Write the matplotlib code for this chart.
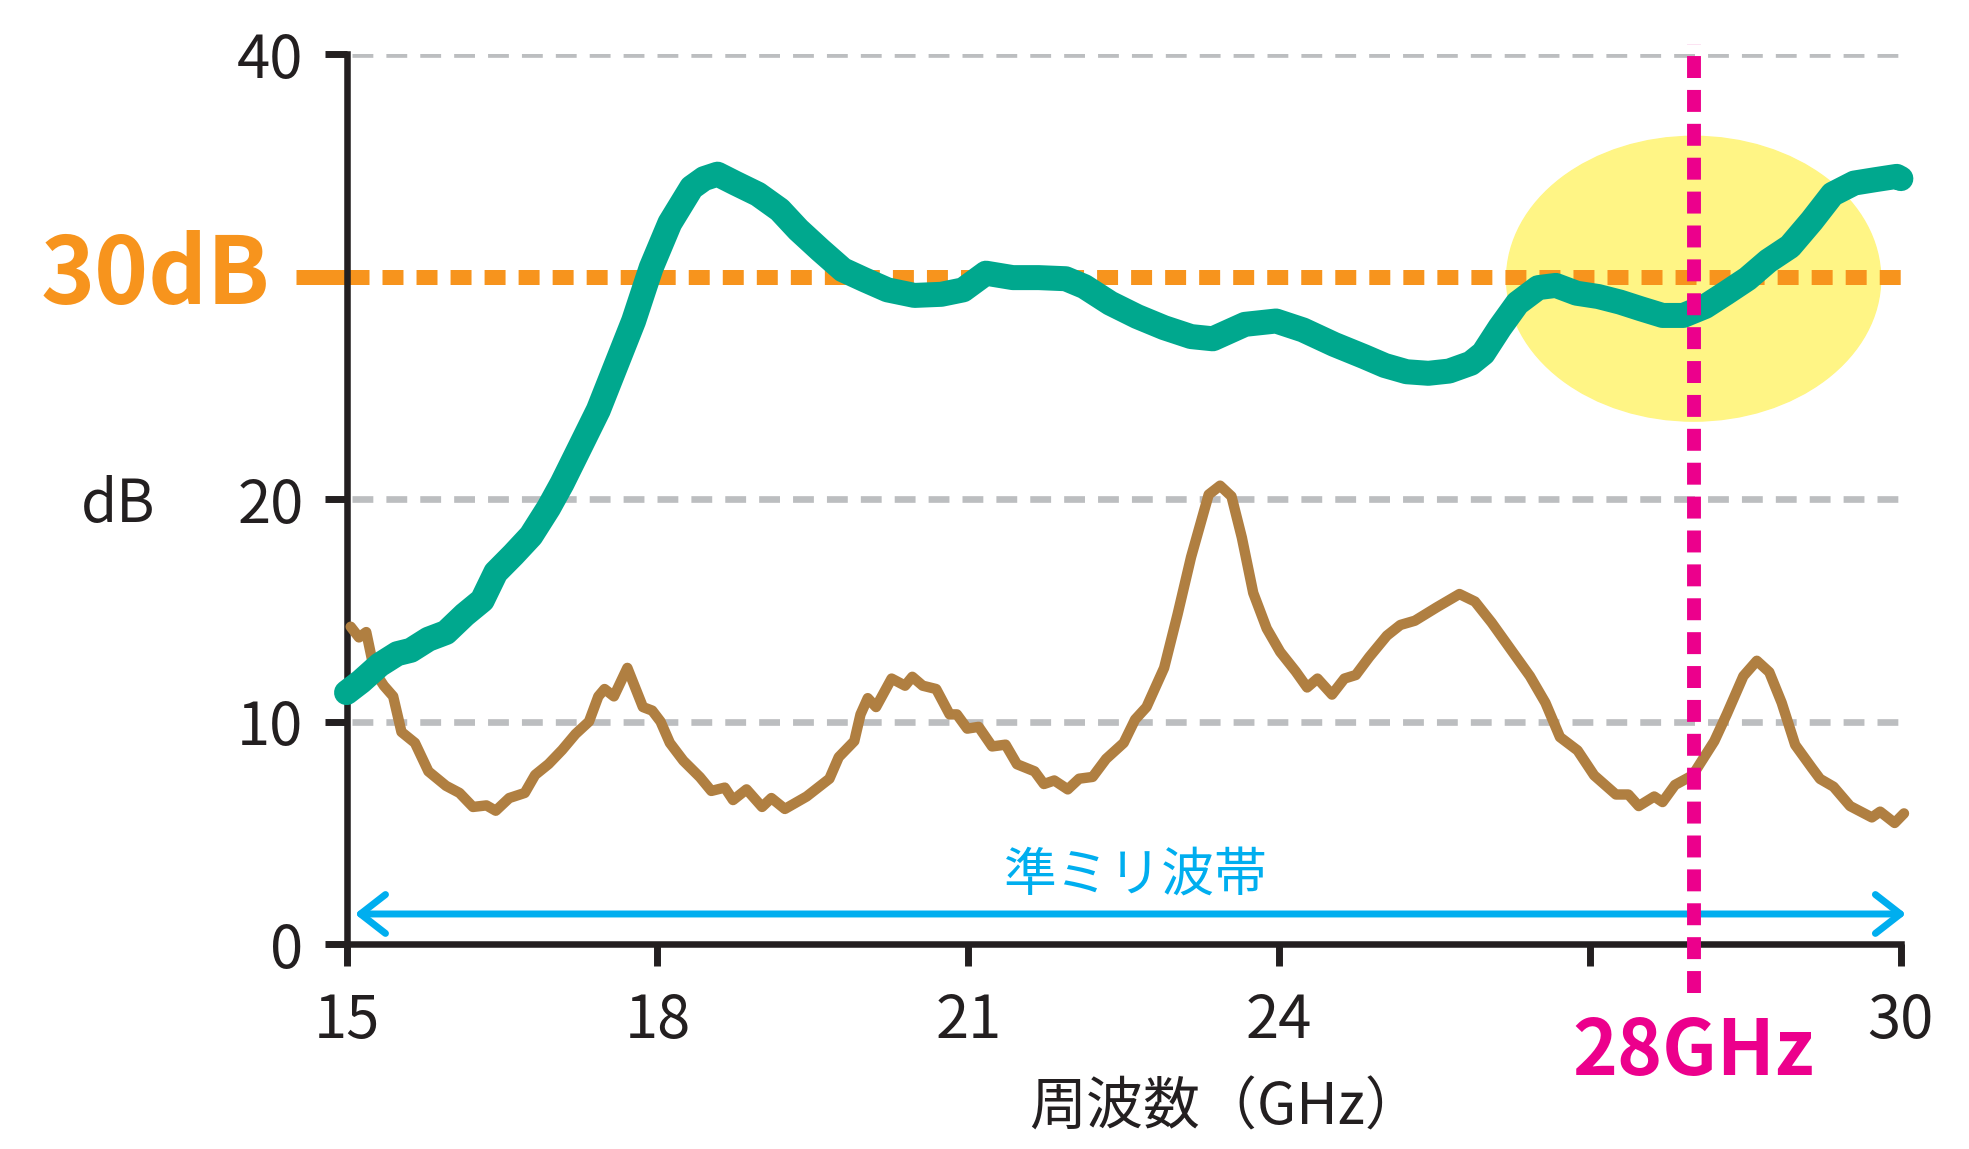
import matplotlib
matplotlib.use('Agg')
import matplotlib.pyplot as plt
from matplotlib.patches import Ellipse

plt.rcParams['font.family'] = ['Noto Sans CJK JP', 'DejaVu Sans']
plt.rcParams['lines.scale_dashes'] = False

# data
green_f = [15.0, 15.14, 15.32, 15.49, 15.62, 15.79, 15.96, 16.14, 16.31, 16.44,
           16.61, 16.78, 16.95, 17.08, 17.25, 17.43, 17.6, 17.77, 17.94, 18.12,
           18.33, 18.45, 18.58, 18.75, 18.97, 19.18, 19.36, 19.57, 19.79, 20.0,
           20.22, 20.48, 20.74, 20.95, 21.17, 21.43, 21.68, 21.94, 22.12, 22.37,
           22.63, 22.89, 23.15, 23.36, 23.67, 23.97, 24.23, 24.53, 24.82, 25.02,
           25.23, 25.44, 25.64, 25.85, 25.97, 26.13, 26.3, 26.5, 26.67, 26.87,
           27.08, 27.29, 27.49, 27.7, 27.9, 28.11, 28.31, 28.52, 28.72, 28.93,
           29.14, 29.34, 29.55, 29.75, 29.96, 30.0]
green_db = [11.3, 11.8, 12.55, 13.05, 13.2, 13.7, 14.0, 14.8, 15.45, 16.7,
            17.5, 18.35, 19.6, 20.7, 22.3, 24.0, 26.0, 28.0, 30.4, 32.4,
            34.0, 34.4, 34.6, 34.2, 33.7, 33.0, 32.1, 31.2, 30.3, 29.85,
            29.4, 29.15, 29.2, 29.4, 30.15, 29.95, 29.95, 29.9, 29.55, 28.8,
            28.2, 27.7, 27.3, 27.2, 27.85, 28.0, 27.6, 26.95, 26.4, 26.0,
            25.72, 25.65, 25.75, 26.1, 26.55, 27.7, 28.8, 29.5, 29.6, 29.25,
            29.1, 28.85, 28.55, 28.25, 28.25, 28.65, 29.25, 29.9, 30.7, 31.35,
            32.5, 33.7, 34.2, 34.35, 34.5, 34.4]

brown_f = [15.04, 15.12, 15.19, 15.27, 15.36, 15.45, 15.53, 15.66, 15.79, 15.96,
           16.09, 16.22, 16.35, 16.44, 16.57, 16.72, 16.82, 16.95, 17.08, 17.21,
           17.34, 17.43, 17.49, 17.58, 17.71, 17.86, 17.95, 18.03, 18.12, 18.25,
           18.41, 18.52, 18.65, 18.73, 18.86, 19.01, 19.1, 19.23, 19.44, 19.66,
           19.75, 19.9, 19.96, 20.03, 20.11, 20.26, 20.39, 20.46, 20.56, 20.69,
           20.82, 20.89, 20.99, 21.1, 21.23, 21.36, 21.47, 21.64, 21.73, 21.83,
           21.96, 22.07, 22.2, 22.33, 22.5, 22.61, 22.72, 22.89, 23.02, 23.15,
           23.32, 23.43, 23.54, 23.64, 23.75, 23.88, 24.01, 24.16, 24.27, 24.37,
           24.51, 24.63, 24.74, 24.87, 25.04, 25.17, 25.31, 25.52, 25.74, 25.89,
           26.05, 26.26, 26.42, 26.57, 26.71, 26.88, 27.04, 27.25, 27.37, 27.47,
           27.62, 27.7, 27.82, 27.99, 28.2, 28.32, 28.48, 28.61, 28.73, 28.85,
           28.98, 29.14, 29.22, 29.35, 29.51, 29.72, 29.8, 29.94, 30.03]
brown_db = [14.26, 13.78, 14.02, 12.25, 11.61, 11.13, 9.53, 9.04, 7.76, 7.11,
            6.79, 6.16, 6.23, 5.99, 6.56, 6.79, 7.6, 8.09, 8.72, 9.44,
            10.0, 11.13, 11.46, 11.13, 12.41, 10.65, 10.49, 10.0, 9.04, 8.24,
            7.5, 6.88, 7.03, 6.47, 6.95, 6.16, 6.56, 6.07, 6.63, 7.43,
            8.4, 9.12, 10.32, 11.05, 10.65, 11.93, 11.61, 12.01, 11.61, 11.46,
            10.32, 10.32, 9.68, 9.76, 8.88, 8.96, 8.08, 7.76, 7.19, 7.35,
            6.95, 7.43, 7.51, 8.32, 9.04, 10.09, 10.65, 12.41, 14.82, 17.39,
            20.2, 20.6, 20.12, 18.27, 15.78, 14.18, 13.13, 12.25, 11.53, 11.93,
            11.21, 11.93, 12.09, 12.9, 13.86, 14.34, 14.53, 15.13, 15.73, 15.39,
            14.45, 13.08, 12.04, 10.84, 9.3, 8.7, 7.58, 6.72, 6.72, 6.2,
            6.63, 6.38, 7.15, 7.58, 9.12, 10.33, 12.04, 12.73, 12.22, 10.84,
            8.95, 7.92, 7.42, 7.07, 6.2, 5.69, 5.95, 5.44, 5.87]

x_ticks = [15, 18, 21, 24, 27, 30]
x_labels = ['15', '18', '21', '24', '', '30']
y_ticks = [0, 10, 20, 40]
y_labels = ['0', '10', '20', '40']
grid_levels = [10, 20, 40]
target_db = 30
band_f = 28
band_range = [15.08, 30.05]

black = '#231f20'
green = '#00a88e'
brown = '#b07f41'
orange = '#f7941d'
magenta = '#ec008c'
blue = '#00aeef'
gray = '#bcbec0'
yellow = '#fff585'

fig = plt.figure(figsize=(19.69, 11.49), dpi=100)
ax = fig.add_axes([0.176, 0.1784, 0.7894, 0.7746])
ax.set_xlim(15, 30)
ax.set_ylim(0, 40)

for s in ['top', 'right']:
    ax.spines[s].set_visible(False)
for s in ['left', 'bottom']:
    ax.spines[s].set_linewidth(4.7)
    ax.spines[s].set_color(black)
    ax.spines[s].set_zorder(3)

ax.set_xticks(x_ticks)
ax.set_xticklabels(x_labels)
ax.set_yticks(y_ticks)
ax.set_yticklabels(y_labels)
ax.tick_params(axis='both', length=16, width=5, color=black, labelsize=43,
               labelcolor=black)
ax.tick_params(axis='y', pad=15)
ax.tick_params(axis='x', pad=18)

# highlight circle
ax.add_patch(Ellipse((band_f, 29.9), 3.61, 12.8, color=yellow, zorder=0.5,
                     clip_on=False))

# gray dashed grid
for g in grid_levels:
    ax.plot([15.05, 30], [g, g], color=gray, lw=4.8, dashes=(15, 9.4),
            dash_capstyle='butt', zorder=1)

# 30dB line
ax.plot([14.515, 15.22], [target_db, target_db], color=orange, lw=10.8,
        solid_capstyle='butt', zorder=2, clip_on=False)
ax.plot([15.34, 30], [target_db, target_db], color=orange, lw=10.8,
        dashes=(15.1, 9.4), dash_capstyle='butt', zorder=2)

# curves
ax.plot(brown_f, brown_db, color=brown, lw=7.5, solid_joinstyle='round',
        solid_capstyle='round', zorder=4, clip_on=False)
ax.plot(green_f, green_db, color=green, lw=18, solid_joinstyle='round',
        solid_capstyle='round', zorder=5, clip_on=False)

# band arrow
ax.annotate('', xy=(band_range[1], 1.35), xytext=(band_range[0], 1.35),
            arrowprops=dict(arrowstyle='<->,head_length=0.9,head_width=0.7',
                            lw=5, color=blue, mutation_scale=20,
                            shrinkA=0, shrinkB=0),
            annotation_clip=False, zorder=4)
ax.text(22.62, 3.1, '準ミリ波帯', color=blue, fontsize=38, ha='center',
        va='center')

# 28GHz marker
ax.plot([band_f, band_f], [-2.2, 40.45], color=magenta, lw=10,
        dashes=(15.8, 8.6), dash_capstyle='butt', zorder=6, clip_on=False)
ax.text(band_f, -4.85, '28GHz', color=magenta, fontsize=55, fontweight='bold',
        ha='center', va='center', clip_on=False)

ax.text(14.26, target_db, '30dB', color=orange, fontsize=66, fontweight='bold',
        ha='right', va='center', clip_on=False)
ax.text(12.8, 19.7, 'dB', color=black, fontsize=42, ha='center', va='center')
ax.text(23.48, -7.4, '周波数（GHz）', color=black, fontsize=41, ha='center',
        va='center')

fig.savefig('out.png', dpi=100)
